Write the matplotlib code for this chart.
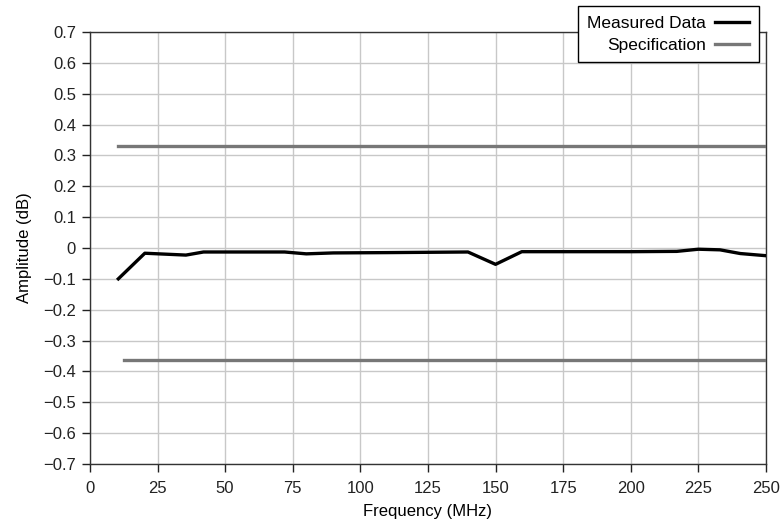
import numpy as np
import matplotlib.pyplot as plt
from matplotlib.ticker import FuncFormatter

plt.rcParams['font.family'] = ['Liberation Sans', 'DejaVu Sans']

freq = [10.5, 20.3, 35.5, 42, 72, 80, 90, 110, 139.8, 150, 159.7, 200, 217, 225, 233, 240.5, 250]
amp = [-0.100, -0.017, -0.023, -0.013, -0.013, -0.019, -0.016, -0.015, -0.013, -0.053, -0.012,
       -0.012, -0.011, -0.004, -0.006, -0.018, -0.025]

spec_upper_x = [10.5, 250]
spec_upper_y = [0.331, 0.331]
spec_lower_x = [12.5, 250]
spec_lower_y = [-0.363, -0.363]

fig = plt.figure(figsize=(7.82, 5.24), dpi=100)
ax = fig.add_axes([0.115, 0.1145, 0.8645, 0.8245])

ax.plot(freq, amp, color='black', lw=2.4, label='Measured Data', zorder=3)
ax.plot(spec_upper_x, spec_upper_y, color='#777777', lw=2.4, label='Specification', zorder=3)
ax.plot(spec_lower_x, spec_lower_y, color='#777777', lw=2.4, zorder=3)

ax.set_xlim(0, 250)
ax.set_ylim(-0.7, 0.7)
ax.set_xticks(np.arange(0, 251, 25))
ax.set_yticks(np.round(np.arange(-0.7, 0.71, 0.1), 1))
ax.yaxis.set_major_formatter(FuncFormatter(lambda v, p: '0' if abs(v) < 1e-9 else f'{v:.1f}'.replace('-', '\u2212')))
ax.grid(True, color='#c8c8c8', lw=1)
ax.set_axisbelow(True)
ax.tick_params(direction='out', length=6, width=1, labelsize=12, colors='#222222')
ax.tick_params(axis='y', pad=4)
ax.tick_params(axis='x', pad=6)
for s in ax.spines.values():
    s.set_color('#333333')
    s.set_linewidth(1)

ax.set_xlabel('Frequency (MHz)', fontsize=12, labelpad=6)
ax.set_ylabel('Amplitude (dB)', fontsize=12, labelpad=8)

leg = ax.legend(loc='upper right', bbox_to_anchor=(0.9706, 0.9885), bbox_transform=fig.transFigure,
                markerfirst=False, frameon=True, fancybox=False, framealpha=1, edgecolor='black',
                fontsize=12.5, handlelength=2.0, handletextpad=0.5, borderpad=0.55, labelspacing=0.4,
                borderaxespad=0)
leg.get_frame().set_linewidth(1)
for t in leg.get_texts():
    t.set_ha('right')
leg._legend_box.align = 'right'

fig.savefig('out.png', dpi=100)
